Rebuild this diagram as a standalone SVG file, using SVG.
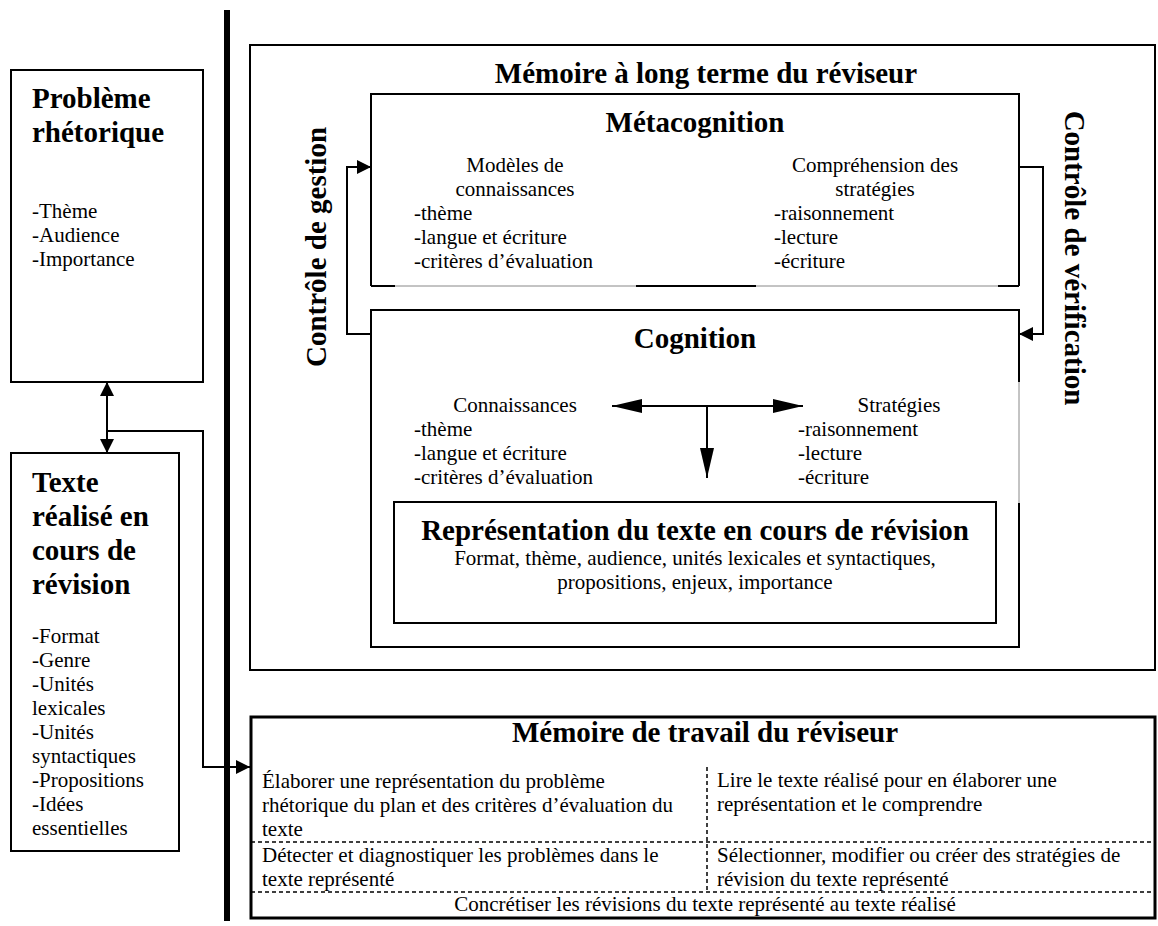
<svg xmlns="http://www.w3.org/2000/svg" width="1158" height="926" viewBox="0 0 1158 926">
<style>
text{font-family:"Liberation Serif","Times New Roman",serif;fill:#000}
.h{font-size:29px;font-weight:bold}
.t{font-size:21px}
.c{text-anchor:middle}
.box{fill:none;stroke:#000;stroke-width:2}
.ln{fill:none;stroke:#000;stroke-width:2}
.thin{fill:none;stroke:#888;stroke-width:1}
.dash{fill:none;stroke:#000;stroke-width:1.5;stroke-dasharray:4,3}
</style>
<defs>
<marker id="a" markerUnits="userSpaceOnUse" markerWidth="14" markerHeight="14" refX="14" refY="7" orient="auto-start-reverse"><path d="M0,0 L14,7 L0,14 z" fill="#000"/></marker>
<marker id="b" markerUnits="userSpaceOnUse" markerWidth="30" markerHeight="14" refX="30" refY="7" orient="auto-start-reverse"><path d="M0,0 L30,7 L0,14 z" fill="#000"/></marker>
</defs>
<rect width="1158" height="926" fill="#fff"/>
<line x1="227" y1="10" x2="227" y2="921" stroke="#000" stroke-width="6"/>

<g id="probleme">
<rect class="box" x="11" y="70" width="192" height="312"/>
<text class="h" x="32" y="108">Problème</text>
<text class="h" x="32" y="142">rhétorique</text>
<text class="t" x="32" y="218">-Thème</text>
<text class="t" x="32" y="242">-Audience</text>
<text class="t" x="32" y="266">-Importance</text>
</g>

<g id="texte">
<rect class="box" x="11" y="453" width="168" height="398"/>
<text class="h" x="32" y="492">Texte</text>
<text class="h" x="32" y="526">réalisé en</text>
<text class="h" x="32" y="560">cours de</text>
<text class="h" x="32" y="594">révision</text>
<text class="t" x="32" y="643">-Format</text>
<text class="t" x="32" y="667">-Genre</text>
<text class="t" x="32" y="691">-Unités</text>
<text class="t" x="32" y="715">lexicales</text>
<text class="t" x="32" y="739">-Unités</text>
<text class="t" x="32" y="763">syntactiques</text>
<text class="t" x="32" y="787">-Propositions</text>
<text class="t" x="32" y="811">-Idées</text>
<text class="t" x="32" y="835">essentielles</text>
</g>

<g id="ltm">
<rect class="box" x="250" y="45" width="905" height="625"/>
<text class="h c" x="706" y="83">Mémoire à long terme du réviseur</text>
<text class="h c" transform="translate(326,247) rotate(-90)">Contrôle de gestion</text>
<text class="h c" transform="translate(1065,258) rotate(90)">Contrôle de vérification</text>
</g>

<g id="metacognition">
<path class="ln" d="M371,286 L371,94 L1019,94 L1019,286"/>
<line class="thin" x1="371" y1="286" x2="1019" y2="286"/>
<path class="ln" d="M371,286 H395 M636,286 H756 M998,286 H1019"/>
<text class="h c" x="695" y="132">Métacognition</text>
<text class="t c" x="515" y="172">Modèles de</text>
<text class="t c" x="515" y="196">connaissances</text>
<text class="t" x="414" y="220">-thème</text>
<text class="t" x="414" y="244">-langue et écriture</text>
<text class="t" x="414" y="268">-critères d’évaluation</text>
<text class="t c" x="875" y="172">Compréhension des</text>
<text class="t c" x="875" y="196">stratégies</text>
<text class="t" x="774" y="220">-raisonnement</text>
<text class="t" x="774" y="244">-lecture</text>
<text class="t" x="774" y="268">-écriture</text>
</g>

<g id="cognition">
<path class="ln" d="M1019,382 L1019,310 L371,310 L371,647 L1019,647 L1019,503"/>
<line class="thin" x1="1019" y1="382" x2="1019" y2="503"/>
<text class="h c" x="695" y="348">Cognition</text>
<text class="t c" x="515" y="412">Connaissances</text>
<text class="t" x="414" y="436">-thème</text>
<text class="t" x="414" y="460">-langue et écriture</text>
<text class="t" x="414" y="484">-critères d’évaluation</text>
<text class="t c" x="899" y="412">Stratégies</text>
<text class="t" x="798" y="436">-raisonnement</text>
<text class="t" x="798" y="460">-lecture</text>
<text class="t" x="798" y="484">-écriture</text>
</g>

<g id="representation">
<rect class="box" x="394" y="502" width="602" height="121"/>
<text class="h c" x="695" y="540">Représentation du texte en cours de révision</text>
<text class="t c" x="695" y="565">Format, thème, audience, unités lexicales et syntactiques,</text>
<text class="t c" x="695" y="589">propositions, enjeux, importance</text>
</g>

<g id="travail">
<rect x="251" y="717" width="904" height="201" fill="none" stroke="#000" stroke-width="3"/>
<text class="h c" x="705" y="742">Mémoire de travail du réviseur</text>
<line class="dash" x1="707" y1="767" x2="707" y2="892"/>
<line class="dash" x1="251" y1="842" x2="1155" y2="842"/>
<line class="dash" x1="251" y1="892" x2="1155" y2="892"/>
<text class="t" x="262" y="788">Élaborer une représentation du problème</text>
<text class="t" x="262" y="812">rhétorique du plan et des critères d’évaluation du</text>
<text class="t" x="262" y="836">texte</text>
<text class="t" x="262" y="862">Détecter et diagnostiquer les problèmes dans le</text>
<text class="t" x="262" y="886">texte représenté</text>
<text class="t" x="717" y="787">Lire le texte réalisé pour en élaborer une</text>
<text class="t" x="717" y="811">représentation et le comprendre</text>
<text class="t" x="717" y="862">Sélectionner, modifier ou créer des stratégies de</text>
<text class="t" x="717" y="886">révision du texte représenté</text>
<text class="t c" x="705" y="911">Concrétiser les révisions du texte représenté au texte réalisé</text>
</g>

<g id="connectors">
<line class="ln" x1="107" y1="382" x2="107" y2="453" marker-start="url(#a)" marker-end="url(#a)"/>
<path class="ln" d="M107,431 H203 V767 H250" marker-end="url(#a)"/>
<path class="ln" d="M371,334 H347 V167 H371" marker-end="url(#a)"/>
<path class="ln" d="M1019,167 H1043 V334 H1019" marker-end="url(#a)"/>
<line class="ln" x1="612" y1="406" x2="803" y2="406" marker-start="url(#b)" marker-end="url(#b)"/>
<line class="ln" x1="707" y1="406" x2="707" y2="478" marker-end="url(#b)"/>
</g>
</svg>
